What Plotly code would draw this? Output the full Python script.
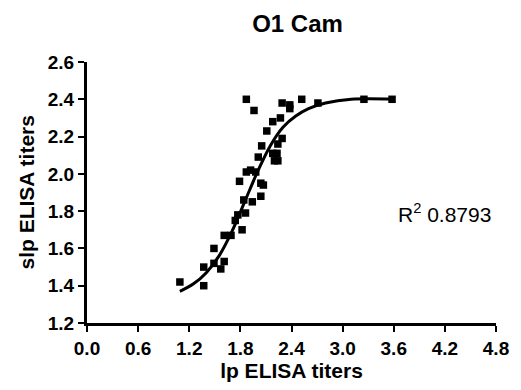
import plotly.graph_objects as go

# Data points
lp_titers = [1.09, 1.37, 1.37, 1.49, 1.49, 1.57, 1.61, 1.61, 1.69, 1.74, 1.77, 1.82,
             1.79, 1.86, 1.84, 1.87, 1.87, 1.92, 1.94, 1.96, 1.98, 2.04, 2.04, 2.07,
             2.01, 2.05, 2.11, 2.18, 2.18, 2.20, 2.24, 2.23, 2.24, 2.29, 2.27, 2.29,
             2.38, 2.38, 2.52, 2.71, 3.25, 3.58]
slp_titers = [1.42, 1.40, 1.50, 1.60, 1.52, 1.49, 1.53, 1.67, 1.67, 1.75, 1.78, 1.70,
              1.96, 1.79, 1.86, 2.40, 2.01, 2.02, 1.85, 2.34, 2.01, 1.95, 1.88, 1.94,
              2.09, 2.15, 2.23, 2.28, 2.11, 2.07, 2.07, 2.11, 2.16, 2.19, 2.30, 2.38,
              2.37, 2.35, 2.40, 2.38, 2.40, 2.40]

# Fitted curve
fit_x = [1.09, 1.25, 1.40, 1.55, 1.70, 1.85, 2.00, 2.15, 2.30, 2.45, 2.60, 2.80, 3.10, 3.60]
fit_y = [1.37, 1.41, 1.47, 1.56, 1.69, 1.85, 2.01, 2.15, 2.25, 2.31, 2.35, 2.38, 2.40, 2.40]

x_ticks = [0.0, 0.6, 1.2, 1.8, 2.4, 3.0, 3.6, 4.2, 4.8]
y_ticks = [1.2, 1.4, 1.6, 1.8, 2.0, 2.2, 2.4, 2.6]

FONT = "Liberation Sans, Arial, sans-serif"

fig = go.Figure()
fig.add_trace(go.Scatter(x=lp_titers, y=slp_titers, mode="markers",
                         marker=dict(symbol="square", size=7.5, color="black"),
                         showlegend=False))
fig.add_trace(go.Scatter(x=fit_x, y=fit_y, mode="lines",
                         line=dict(color="black", width=3, shape="spline"),
                         showlegend=False))

fig.update_layout(
    width=521, height=390,
    margin=dict(l=87, r=18, t=62, b=67),
    paper_bgcolor="white", plot_bgcolor="white",
    title=dict(text="<b>O1 Cam</b>", x=0.571, xanchor="center", y=0.94, yanchor="middle",
               font=dict(family=FONT, size=24, color="black")),
    xaxis=dict(range=[0, 4.8], tickvals=x_ticks,
               ticktext=[f"<b>{v:.1f}</b>" for v in x_ticks],
               showgrid=False, zeroline=False, showline=True, linecolor="black", linewidth=3,
               ticks="outside", ticklen=6, tickwidth=2, tickcolor="black",
               tickfont=dict(family=FONT, size=19, color="black"),
               title=dict(text="<b>lp ELISA titers</b>", standoff=4,
                          font=dict(family=FONT, size=21, color="black"))),
    yaxis=dict(range=[1.2, 2.6], tickvals=y_ticks,
               ticktext=[f"<b>{v:.1f}</b>" for v in y_ticks],
               showgrid=False, zeroline=False, showline=True, linecolor="black", linewidth=3,
               ticks="outside", ticklen=6, tickwidth=2, tickcolor="black",
               tickfont=dict(family=FONT, size=19, color="black")),
    annotations=[
        dict(text="R<sup>2</sup> 0.8793", x=4.19, y=1.79, xref="x", yref="y",
             showarrow=False, xanchor="center", yanchor="middle",
             font=dict(family=FONT, size=21, color="black")),
        dict(text="<b>slp ELISA titers</b>", x=-61, y=0.5, xref="x domain", yref="y domain",
             xshift=0, showarrow=False, textangle=-90, xanchor="center", yanchor="middle",
             font=dict(family=FONT, size=21, color="black")),
    ],
)
# place y title by pixel offset from plot left edge
fig.layout.annotations[1].update(x=0, xshift=-61)

fig.write_html("out.html")
